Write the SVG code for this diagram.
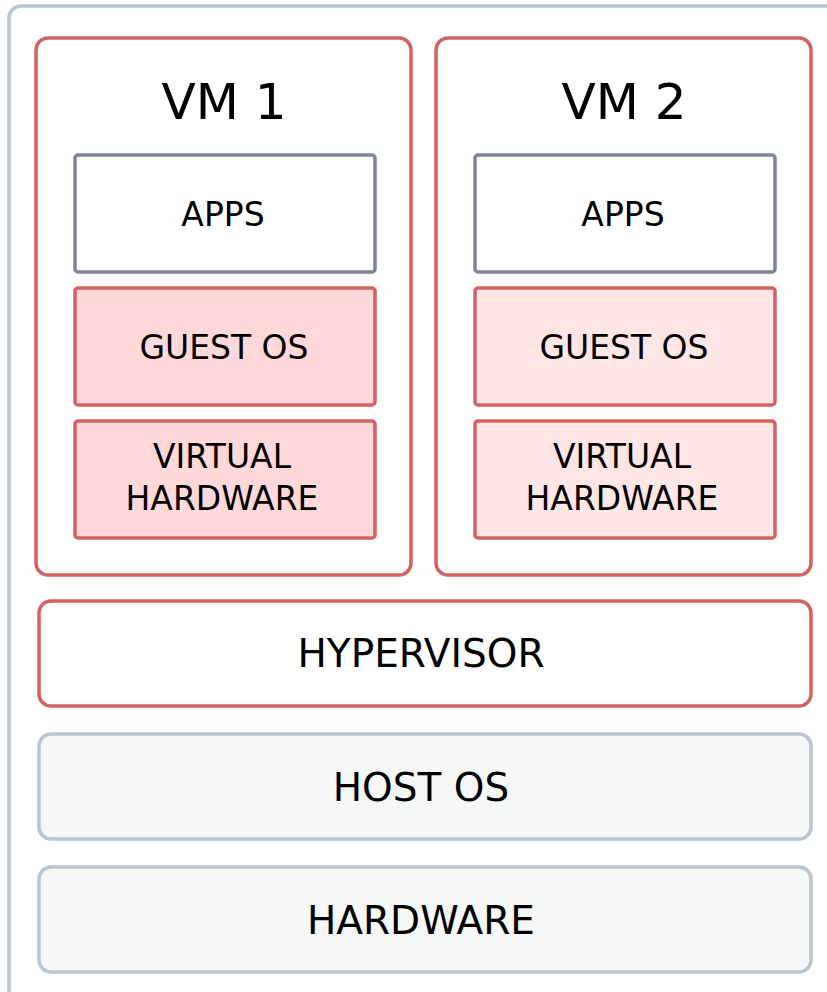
<svg xmlns="http://www.w3.org/2000/svg" width="827" height="992" viewBox="0 0 827 992">
<style>
text{font-family:"DejaVu Sans","Liberation Sans",sans-serif;fill:#000;text-anchor:middle}
.frame{fill:#fff;stroke:#b9c5d1;stroke-width:3.5}
.vm{fill:#fff;stroke:#d46262;stroke-width:3.5}
.apps{fill:#fff;stroke:#7f8692;stroke-width:3.5}
.g1{fill:#ffd9d9;stroke:#d46262;stroke-width:3.5}
.g2{fill:#ffe6e6;stroke:#d46262;stroke-width:3.5}
.hyp{fill:#fff;stroke:#d46262;stroke-width:3.5}
.host{fill:#f6f8f8;stroke:#b9c5d1;stroke-width:3.5}
.t{font-size:50px}
.s{font-size:33px}
.b{font-size:39px}
</style>
<rect width="827" height="992" fill="#fff"/>
<g id="host-frame"><rect class="frame" x="9" y="6" width="840" height="1010" rx="12"/></g>
<g id="vm1">
<rect class="vm" x="36" y="38" width="375" height="537" rx="12"/>
<text class="t" x="224" y="119">VM 1</text>
</g>
<g id="vm1-apps"><rect class="apps" x="75" y="155" width="300" height="117" rx="3"/><text class="s" x="223" y="226">APPS</text></g>
<g id="vm1-guestos"><rect class="g1" x="75" y="288" width="300" height="117" rx="3"/><text class="s" x="224" y="359">GUEST OS</text></g>
<g id="vm1-vhw"><rect class="g1" x="75" y="421" width="300" height="117" rx="3"/><text class="s" x="222" y="468">VIRTUAL</text><text class="s" x="222" y="510">HARDWARE</text></g>
<g id="vm2">
<rect class="vm" x="436" y="38" width="375" height="537" rx="12"/>
<text class="t" x="624" y="119">VM 2</text>
</g>
<g id="vm2-apps"><rect class="apps" x="475" y="155" width="300" height="117" rx="3"/><text class="s" x="623" y="226">APPS</text></g>
<g id="vm2-guestos"><rect class="g2" x="475" y="288" width="300" height="117" rx="3"/><text class="s" x="624" y="359">GUEST OS</text></g>
<g id="vm2-vhw"><rect class="g2" x="475" y="421" width="300" height="117" rx="3"/><text class="s" x="622" y="468">VIRTUAL</text><text class="s" x="622" y="510">HARDWARE</text></g>
<g id="hypervisor"><rect class="hyp" x="39" y="601" width="772" height="105" rx="12"/><text class="b" x="421" y="667">HYPERVISOR</text></g>
<g id="host-os"><rect class="host" x="39" y="734" width="772" height="105" rx="12"/><text class="b" x="421" y="801">HOST OS</text></g>
<g id="hardware"><rect class="host" x="39" y="867" width="772" height="105" rx="12"/><text class="b" x="421" y="934">HARDWARE</text></g>
<g id="connectors"></g>
</svg>
